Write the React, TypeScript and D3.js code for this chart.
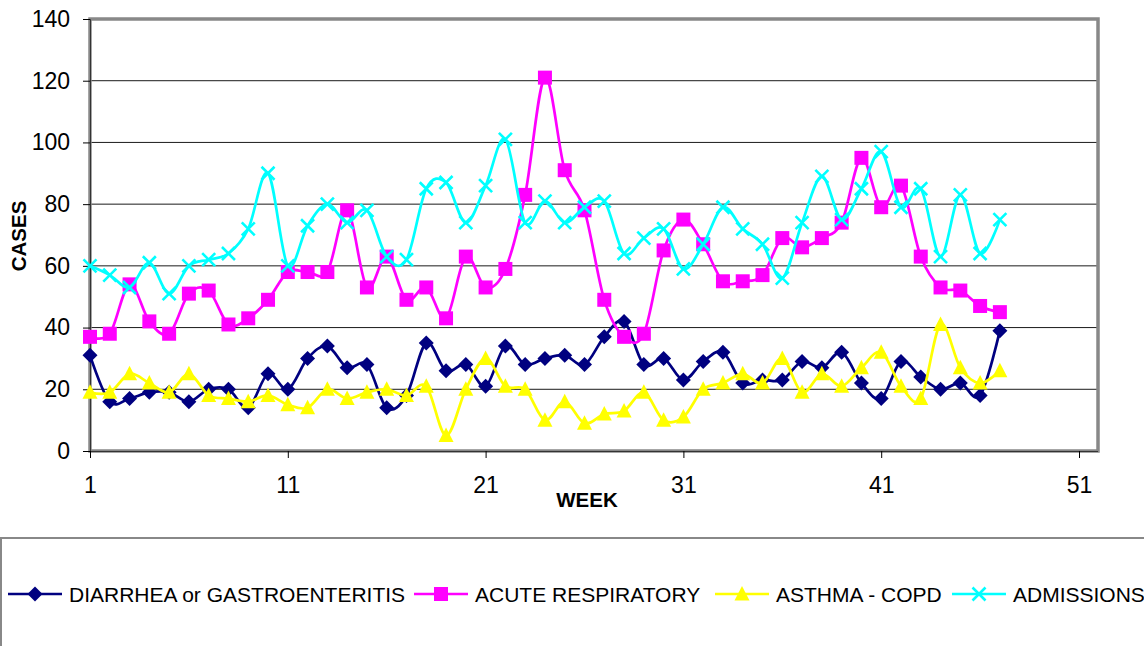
import React, { useEffect, useRef } from 'react';
import * as d3 from 'd3';

const weeks = d3.range(1, 48);
const diarrhea = [31, 16, 17, 19, 19, 16, 20, 20, 14, 25, 20, 30, 34, 27, 28, 14, 18, 35, 26, 28, 21, 34, 28, 30, 31, 28, 37, 42, 28, 30, 23, 29, 32, 22, 23, 23, 29, 27, 32, 22, 17, 29, 24, 20, 22, 18, 39];
const acuteRespiratory = [37, 38, 54, 42, 38, 51, 52, 41, 43, 49, 58, 58, 58, 78, 53, 63, 49, 53, 43, 63, 53, 59, 83, 121, 91, 78, 49, 37, 38, 65, 75, 67, 55, 55, 57, 69, 66, 69, 74, 95, 79, 86, 63, 53, 52, 47, 45];
const asthmaCopd = [19, 19, 25, 22, 19, 25, 18, 17, 16, 18, 15, 14, 20, 17, 19, 20, 18, 21, 5, 20, 30, 21, 20, 10, 16, 9, 12, 13, 19, 10, 11, 20, 22, 25, 22, 30, 19, 25, 21, 27, 32, 21, 17, 41, 27, 22, 26];
const admissions = [60, 57, 53, 61, 51, 60, 62, 64, 72, 90, 60, 73, 80, 74, 78, 63, 62, 85, 87, 74, 86, 101, 74, 81, 74, 79, 81, 64, 69, 72, 59, 67, 79, 72, 67, 56, 74, 89, 75, 85, 97, 79, 85, 63, 83, 64, 75];

const seriesNames = ['DIARRHEA or GASTROENTERITIS', 'ACUTE RESPIRATORY', 'ASTHMA - COPD', 'ADMISSIONS'];
const xTicks = [1, 11, 21, 31, 41, 51];
const yTicks = [0, 20, 40, 60, 80, 100, 120, 140];

const series = [
  { name: seriesNames[0], values: diarrhea, color: '#000080', marker: 'diamond' },
  { name: seriesNames[1], values: acuteRespiratory, color: '#FF00FF', marker: 'square' },
  { name: seriesNames[2], values: asthmaCopd, color: '#FFFF00', marker: 'triangle' },
  { name: seriesNames[3], values: admissions, color: '#00FFFF', marker: 'x' },
];

const FONT = 'Arial, "Liberation Sans", sans-serif';

function drawMarker(g, type, color, x, y) {
  if (type === 'diamond') {
    g.append('path').attr('d', `M${x},${y - 7.5}L${x + 7.5},${y}L${x},${y + 7.5}L${x - 7.5},${y}Z`).attr('fill', color);
  } else if (type === 'square') {
    g.append('rect').attr('x', x - 7).attr('y', y - 7).attr('width', 14).attr('height', 14).attr('fill', color);
  } else if (type === 'triangle') {
    g.append('path').attr('d', `M${x},${y - 8}L${x + 7.5},${y + 6.5}L${x - 7.5},${y + 6.5}Z`).attr('fill', color);
  } else {
    g.append('path').attr('d', `M${x - 6.5},${y - 6.5}L${x + 6.5},${y + 6.5}M${x + 6.5},${y - 6.5}L${x - 6.5},${y + 6.5}`)
      .attr('stroke', color).attr('stroke-width', 2.6).attr('fill', 'none');
  }
}

const Chart = () => {
  const ref = useRef(null);
  const width = 1144, height = 646;
  const left = 90, top = 19, right = 1098, bottom = 451;

  useEffect(() => {
    const svg = d3.select(ref.current);
    svg.selectAll('*').remove();

    const x = d3.scaleLinear().domain([1, 51]).range([left, 1079]);
    const y = d3.scaleLinear().domain([0, 140]).range([bottom, top]);

    // gridlines
    svg.append('g')
      .selectAll('line')
      .data(yTicks.filter(d => d > 0 && d < 140))
      .enter()
      .append('line')
      .attr('x1', left).attr('x2', right)
      .attr('y1', d => y(d)).attr('y2', d => y(d))
      .attr('stroke', '#1a1a1a').attr('stroke-width', 1);

    // plot frame
    svg.append('rect')
      .attr('x', left).attr('y', top)
      .attr('width', right - left).attr('height', bottom - top)
      .attr('fill', 'none').attr('stroke', '#888').attr('stroke-width', 3.5);

    // axes
    const yAxis = svg.append('g')
      .attr('transform', `translate(${left},0)`)
      .call(d3.axisLeft(y).tickValues(yTicks).tickSize(7).tickPadding(13));
    yAxis.select('.domain').attr('stroke', '#333');
    yAxis.selectAll('.tick line').attr('stroke', '#000');
    yAxis.selectAll('text').attr('font-family', FONT).attr('font-size', 23).attr('fill', '#000');

    const xAxis = svg.append('g')
      .attr('transform', `translate(0,${bottom})`)
      .call(d3.axisBottom(x).tickValues(xTicks).tickFormat(d3.format('d')).tickSize(7).tickSizeOuter(0).tickPadding(19));
    xAxis.select('.domain').attr('stroke', '#333').attr('d', `M${left},0.5H${right}`);
    xAxis.selectAll('.tick line').attr('stroke', '#000');
    xAxis.selectAll('text').attr('font-family', FONT).attr('font-size', 23).attr('fill', '#000');

    // axis titles
    svg.append('text')
      .attr('x', 587).attr('y', 507)
      .attr('text-anchor', 'middle')
      .attr('font-family', FONT).attr('font-size', 20.5).attr('font-weight', 'bold')
      .text('WEEK');
    svg.append('text')
      .attr('transform', 'translate(26,236) rotate(-90)')
      .attr('text-anchor', 'middle')
      .attr('font-family', FONT).attr('font-size', 20.5).attr('font-weight', 'bold')
      .text('CASES');

    // series
    const line = d3.line()
      .x((d, i) => x(weeks[i]))
      .y(d => y(d))
      .curve(d3.curveCardinal.tension(0));

    series.forEach(s => {
      const g = svg.append('g');
      g.append('path')
        .attr('d', line(s.values))
        .attr('fill', 'none')
        .attr('stroke', s.color)
        .attr('stroke-width', 2.7);
      s.values.forEach((v, i) => drawMarker(g, s.marker, s.color, x(weeks[i]), y(v)));
    });

    // legend
    svg.append('rect')
      .attr('x', 1).attr('y', 538)
      .attr('width', 1160).attr('height', 130)
      .attr('fill', 'none').attr('stroke', '#888').attr('stroke-width', 2);

    const legendX = [8, 414, 715, 952];
    const ly = 594;
    series.forEach((s, i) => {
      const g = svg.append('g');
      const lx = legendX[i];
      g.append('line')
        .attr('x1', lx).attr('x2', lx + 54)
        .attr('y1', ly).attr('y2', ly)
        .attr('stroke', s.color).attr('stroke-width', 2.7);
      drawMarker(g, s.marker, s.color, lx + 27, ly);
      g.append('text')
        .attr('x', lx + 61).attr('y', ly + 7.5)
        .attr('font-family', FONT).attr('font-size', 21)
        .attr('fill', '#000')
        .text(s.name);
    });
  }, []);

  return <svg ref={ref} width={width} height={height} style={{ position: 'absolute', left: 0, top: 0, background: '#fff' }}></svg>;
};

export default function App() {
  return <Chart />;
}
